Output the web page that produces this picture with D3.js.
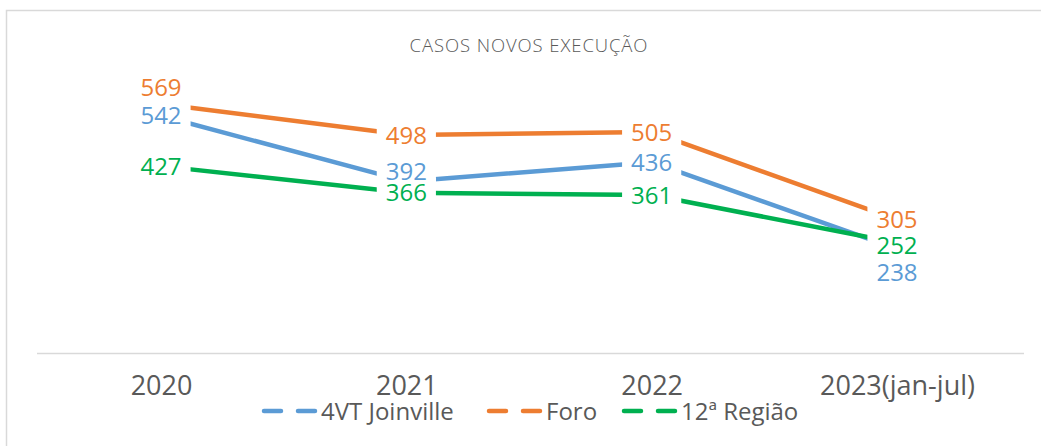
<!DOCTYPE html>
<html><head><meta charset="utf-8">
<script src="https://cdn.jsdelivr.net/npm/d3@7"></script>
<style>
html,body{margin:0;padding:0;background:#fff;overflow:hidden;}
text{font-family:"Open Sans","Noto Sans",sans-serif;}
</style></head>
<body>
<svg id="chart" width="1041" height="446"></svg>
<script>
const title = "CASOS NOVOS EXECUÇÃO";
const categories = ["2020", "2021", "2022", "2023(jan-jul)"];
const seriesNames = ["4VT Joinville", "Foro", "12ª Região"];
const joinville = [542, 392, 436, 238];
const foro = [569, 498, 505, 305];
const regiao = [427, 366, 361, 252];
const colors = ["#5B9BD5", "#ED7D31", "#00B050"];
// label vertical offsets (px) to avoid overlaps, as in original
const labelShift = {
  "4VT Joinville": [0, -10, 0, 24],
  "Foro": [-17, 0, 0, 0],
  "12ª Região": [0, 0, 0, 3]
};

const series = [
  {name: seriesNames[0], values: joinville, color: colors[0]},
  {name: seriesNames[1], values: foro, color: colors[1]},
  {name: seriesNames[2], values: regiao, color: colors[2]}
];

const svg = d3.select("#chart");
const W = 1041, H = 446;

// outer border
svg.append("rect").attr("x", 6.5).attr("y", 10.5).attr("width", W + 10).attr("height", H + 10)
  .attr("fill", "#fff").attr("stroke", "#d9d9d9").attr("stroke-width", 1.5);

const x = d3.scalePoint().domain(categories).range([161, 897]);
const y = d3.scaleLinear().domain([0, 600]).range([353, 90.4]);

// title
svg.append("text").attr("x", 529).attr("y", 52).attr("text-anchor", "middle")
  .attr("font-size", 18.5).attr("letter-spacing", 0.9).attr("fill", "#595959")
  .attr("font-weight", 300).text(title);

// axis line
svg.append("line").attr("x1", 37).attr("x2", 1024).attr("y1", 353.5).attr("y2", 353.5)
  .attr("stroke", "#d9d9d9").attr("stroke-width", 1.5);

// category labels
const axis = d3.axisBottom(x).tickSize(0).tickPadding(0);
const ag = svg.append("g").attr("transform", "translate(0,376)").call(axis);
ag.select(".domain").remove();
ag.selectAll("text").attr("font-size", 27).attr("fill", "#595959")
  .attr("dy", "0.70em").style("font-family", '"Open Sans","Noto Sans",sans-serif');

// lines
const line = d3.line().x((d, i) => x(categories[i])).y(d => y(d));
svg.selectAll(".series").data(series).join("path")
  .attr("class", "series").attr("d", d => line(d.values))
  .attr("fill", "none").attr("stroke", d => d.color).attr("stroke-width", 4.5)
  .attr("stroke-linejoin", "round");

// data labels with white background (all boxes first, then texts)
const boxG = svg.append("g");
const txtG = svg.append("g");
series.forEach(s => {
  s.values.forEach((v, i) => {
    const cx = x(categories[i]);
    const cy = y(v) + labelShift[s.name][i];
    const t = txtG.append("text").attr("x", cx).attr("y", cy).attr("text-anchor", "middle")
      .attr("dy", "0.36em").attr("font-size", 24).attr("fill", s.color).text(v);
    const bb = t.node().getBBox();
    boxG.append("rect").attr("x", bb.x - 9).attr("y", cy - 15)
      .attr("width", bb.width + 18).attr("height", 28).attr("fill", "#fff");
  });
});

// legend
const legendItems = [
  {name: seriesNames[0], color: colors[0], x: 262},
  {name: seriesNames[1], color: colors[1], x: 487},
  {name: seriesNames[2], color: colors[2], x: 622}
];
const leg = svg.append("g");
legendItems.forEach(it => {
  leg.append("line").attr("x1", it.x + 2).attr("x2", it.x + 53).attr("y1", 411).attr("y2", 411)
    .attr("stroke", it.color).attr("stroke-width", 4.5).attr("stroke-linecap", "round")
    .attr("stroke-dasharray", "17 17");
  leg.append("text").attr("x", it.x + 59).attr("y", 411).attr("dy", "0.36em")
    .attr("font-size", 24).attr("fill", "#595959").text(it.name);
});
</script>
</body></html>
